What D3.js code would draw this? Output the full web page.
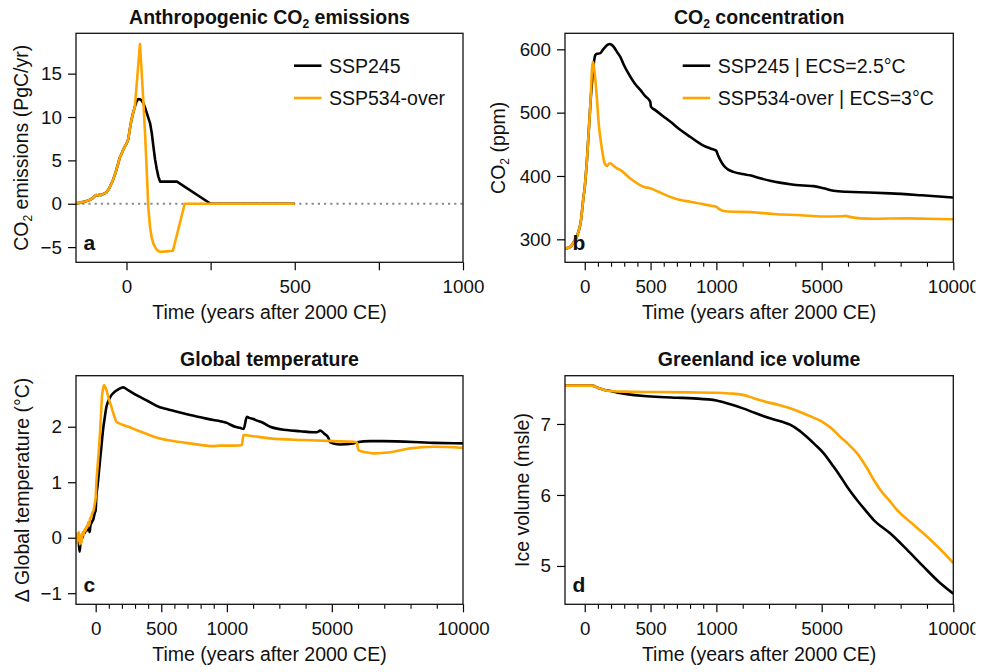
<!DOCTYPE html>
<html><head><meta charset="utf-8">
<script src="https://cdn.jsdelivr.net/npm/d3@7"></script>
<style>body{margin:0;background:#fff}</style>
</head><body>
<script>
// ---------------- DATA ----------------
// Panel a: anthropogenic CO2 emissions (PgC/yr)
const emisHistTime = [-150,-140,-130,-120,-110,-100,-95,-90,-85,-80,-75,-70,-65,-60,-55,-50,-45,-40,-35,-30,-25,-20,-15,-10,-5,0,5,10,15,20,25];
const emisHist     = [0.05,0.1,0.2,0.3,0.42,0.65,0.85,1.0,0.95,1.05,1.0,1.1,1.2,1.3,1.55,1.9,2.3,2.75,3.3,3.9,4.6,5.3,5.7,6.2,6.6,6.9,7.4,8.6,9.7,10.5,11.2];
const emisTimeSSP245 = [30,35,40,45,50,55,60,65,70,75,80,85,90,95,100,150,250,500];
const emisSSP245     = [11.8,12.08,12.05,11.9,11.6,11.1,10.5,9.9,9.3,8.2,6.6,5.1,4.0,3.1,2.55,2.55,0,0];
const emisTimeSSP534 = [30,35,40,45,50,55,60,65,70,75,80,85,90,95,100,138,173,500];
const emisSSP534     = [13.6,16.0,18.4,15.3,11.9,8.3,4.0,-0.5,-2.7,-3.9,-4.6,-5.0,-5.3,-5.45,-5.55,-5.42,0,0];

// Panel b: CO2 concentration (ppm)
const co2HistTime = [-150,-120,-100,-83,-60,-45,-30,-20,-10,0,5,15,23,33,43];
const co2Hist     = [285.5,287,290,296,304,314,328,346,366,382,394,420,446,480,514];
const co2TimeSSP245 = [56,68,81,95,119,140,157,175,190,205,220,245,270,300,346,380,422,460,498,503,536,598,649,725,800,902,960,998,1050,1150,1270,1450,1650,2000,2280,2700,3040,3400,3800,4300,4690,5070,5450,5950,6800,7600,8800,10000];
const co2SSP245     = [550,577,591,593,594,600,604,607.5,608.5,607,604,596,588,574,557,546,536,526,517,509.5,504,494,486,473,462,448,443,440,434,425,417,410,406.5,403,401,396,392.5,389.5,387,385,384,380.5,376.8,375,374,372.6,369.5,366];
const co2TimeSSP534 = [50,56,63,70,81,95,106,120,132,145,157,170,182,195,220,245,270,346,447,498,560,649,725,801,900,960,998,1100,1270,1650,2300,3170,4200,5070,5800,5900,6100,6470,7000,8240,9000,10000];
const co2SSP534     = [545,572,580,572,551,515,483,458,441,425,417.5,416,419,420,416,412,409.5,396,383,380.5,375,367,362,359.4,355.5,353,351.5,348,344.7,343.5,343,340,338,336,336.5,337,335,333,332.5,333,332.5,331.6];

// Panel c: global temperature anomaly (°C)
const tempTimeSSP245 = [-150,-140,-135,-128,-122,-115,-109,-100,-92,-84,-75,-68,-59,-52,-46,-40,-33,-25,-18,-8,0,5,15,31,45,56,70,82,100,120,145,171,209,247,311,400,490,541,620,719,800,898,949,1000,1126,1316,1500,1640,1762,1850,2013,2100,2333,2650,3285,3793,4298,4428,4555,4700,4872,4933,5062,5314,5824,5950,6457,6967,8870,10000];
const tempSSP245     = [0.02,-0.05,0.05,-0.1,-0.25,-0.05,0.05,0.0,0.1,0.08,0.15,0.12,0.2,0.15,0.1,0.22,0.26,0.3,0.33,0.44,0.5,0.74,0.95,1.34,1.68,1.94,2.18,2.36,2.48,2.57,2.63,2.67,2.71,2.66,2.57,2.46,2.35,2.32,2.27,2.21,2.17,2.12,2.10,2.07,2.04,2.0,1.98,1.96,2.18,2.16,2.14,2.12,2.08,2.0,1.94,1.92,1.90,1.90,1.93,1.88,1.80,1.72,1.70,1.68,1.70,1.72,1.74,1.74,1.71,1.70];
const tempTimeSSP534 = [-150,-146,-142,-137,-133,-128,-122,-116,-109,-100,-92,-84,-78,-71,-64,-57,-50,-42,-33,-25,-15,-8,0,5,15,31,40,48,56,64,72,82,100,120,140,158,180,209,260,311,400,490,600,719,898,949,1000,1300,1571,1632,2000,2650,3920,5070,5824,5950,6014,6300,6585,7000,7347,7982,8870,10000];
const tempSSP534     = [0.05,-0.1,0.08,-0.05,0.0,0.1,-0.12,0.05,-0.1,0.1,0.05,0.15,0.12,0.2,0.18,0.28,0.22,0.35,0.38,0.45,0.5,0.6,0.72,0.98,1.3,1.82,2.2,2.54,2.68,2.75,2.72,2.66,2.5,2.36,2.2,2.09,2.06,2.03,1.99,1.94,1.86,1.79,1.74,1.70,1.65,1.66,1.66,1.66,1.67,1.85,1.83,1.79,1.76,1.74,1.73,1.72,1.58,1.54,1.52,1.53,1.55,1.61,1.64,1.62];

// Panel d: Greenland ice volume (m sle)
const iceTimeSSP245 = [-150,0,56,100,150,195,250,321,450,573,700,826,1000,1500,2010,2500,3040,3500,3800,4100,4430,4750,5070,5450,5750,5960,6340,6650,6970,7600,8240,8870,9500,10000];
const iceSSP245     = [7.54,7.54,7.54,7.51,7.48,7.465,7.44,7.42,7.395,7.38,7.37,7.36,7.33,7.28,7.22,7.15,7.08,7.03,6.99,6.92,6.82,6.71,6.59,6.40,6.24,6.12,5.93,5.79,5.65,5.46,5.23,4.99,4.76,4.61];
const iceTimeSSP534 = [-150,0,56,100,150,195,300,548,800,1000,1500,2010,2450,2900,3350,3800,4430,5070,5400,5700,6000,6340,6720,7000,7230,7550,7860,8490,9130,9600,10000];
const iceSSP534     = [7.54,7.54,7.54,7.51,7.48,7.465,7.455,7.45,7.445,7.44,7.43,7.41,7.36,7.31,7.27,7.22,7.13,7.02,6.93,6.82,6.72,6.59,6.38,6.2,6.07,5.93,5.79,5.58,5.37,5.2,5.04];

// Ticks
const xTicksLinear  = [0,250,500,750,1000];
const xLabelsLinear = [0,500,1000];
const xTicksMajor   = [0,500,1000,5000,10000];
const xTicksMinor   = [100,200,300,400,600,700,800,900,2000,3000,4000,6000,7000,8000,9000];
const yTicksA = [-5,0,5,10,15];
const yTicksB = [300,400,500,600];
const yTicksC = [-1,0,1,2];
const yTicksD = [5,6,7];
const legendA = ["SSP245","SSP534-over"];
const legendB = ["SSP245 | ECS=2.5°C","SSP534-over | ECS=3°C"];

// ---------------- DRAW ----------------
const FONT = '"Liberation Sans", Arial, Helvetica, sans-serif';
const BLACK = "#000000", ORANGE = "#FFA500";
const TICKFS = 18.8, LABFS = 19.5, TITFS = 19.5;

const svg = d3.select("body").append("svg")
  .attr("width", 986).attr("height", 672)
  .style("font-family", FONT);
const defs = svg.append("defs");
defs.append("clipPath").attr("id","figclip").append("rect")
  .attr("x",0).attr("y",0).attr("width",975.5).attr("height",672);
const root = svg.append("g").attr("clip-path","url(#figclip)");

const zip = (t, v) => t.map((d,i) => [d, v[i]]);

function rich(sel, parts, fs){
  // parts: array of [text, isSub]
  let prevSub = false;
  parts.forEach(([txt, sub]) => {
    const ts = sel.append("tspan").text(txt);
    if (sub) { ts.attr("font-size", fs*0.62).attr("dy", fs*0.2); prevSub = true; }
    else if (prevSub) { ts.attr("dy", -fs*0.2); prevSub = false; }
  });
}

const PA = {l:76,  r:463,   t:33.3,  b:262.3};
const PB = {l:565, r:953.3, t:33.3,  b:262.3};
const PC = {l:76,  r:463,   t:375.7, b:604.3};
const PD = {l:565, r:953.3, t:375.7, b:604.3};

function brokenX(P){
  // linear until 1000, then compressed 5x until 10000
  const units = 1150 + 9000/5;
  const xm = P.l + (P.r - P.l) * 1150 / units;
  return d3.scaleLinear().domain([-150,1000,10000]).range([P.l, xm, P.r]);
}

let clipId = 0;
function panel(P, x, yDomain, yTicks, opts){
  const g = root.append("g");
  const y = d3.scaleLinear().domain(yDomain).range([P.b, P.t]);
  const cid = "pc" + (clipId++);
  defs.append("clipPath").attr("id", cid).append("rect")
    .attr("x", P.l).attr("y", P.t).attr("width", P.r-P.l).attr("height", P.b-P.t);

  // x axis major + minor
  const xa = g.append("g").attr("transform", `translate(0,${P.b})`)
    .call(d3.axisBottom(x).tickValues(opts.xMajor).tickSize(8).tickPadding(9)
      .tickFormat(d => opts.xLabels.includes(d) ? d3.format("d")(d) : ""));
  xa.select(".domain").remove();
  xa.attr("font-family", FONT).attr("font-size", TICKFS);
  xa.selectAll("line").attr("stroke-width", 1.2);
  xa.selectAll("text").attr("fill", "#111");
  if (opts.xMinor) {
    const xm = g.append("g").attr("transform", `translate(0,${P.b})`)
      .call(d3.axisBottom(x).tickValues(opts.xMinor).tickSize(4.5).tickFormat(""));
    xm.select(".domain").remove();
    xm.selectAll("line").attr("stroke-width", 1.1);
  }
  // y axis
  const ya = g.append("g").attr("transform", `translate(${P.l},0)`)
    .call(d3.axisLeft(y).tickValues(yTicks).tickSize(8).tickPadding(6).tickFormat(d3.format("d")));
  ya.select(".domain").remove();
  ya.attr("font-family", FONT).attr("font-size", TICKFS);
  ya.selectAll("line").attr("stroke-width", 1.2);
  ya.selectAll("text").attr("fill", "#111");

  const plot = g.append("g").attr("clip-path", `url(#${cid})`);
  if (opts.zeroLine) {
    plot.append("line").attr("x1", P.l).attr("x2", P.r)
      .attr("y1", y(0)).attr("y2", y(0))
      .attr("stroke", "#8a8a8a").attr("stroke-width", 2.2)
      .attr("stroke-dasharray", "2.2,4");
  }
  const line = d3.line().x(d => x(d[0])).y(d => y(d[1])).curve(opts.curve || d3.curveLinear);
  opts.series.forEach(s => {
    plot.append("path").datum(s.data).attr("d", line)
      .attr("fill", "none").attr("stroke", s.color).attr("stroke-width", 2.6)
      .attr("stroke-linejoin", "round").attr("stroke-linecap", "butt");
  });

  // frame
  g.append("rect").attr("x", P.l).attr("y", P.t).attr("width", P.r-P.l).attr("height", P.b-P.t)
    .attr("fill", "none").attr("stroke", "#111").attr("stroke-width", 1.3);

  // panel letter
  g.append("text").attr("x", P.l + 7.5).attr("y", P.b - 12.5)
    .attr("font-size", 21).attr("font-weight", "bold").attr("fill", "#111").text(opts.letter);

  // title
  const cx = (P.l + P.r) / 2;
  const tt = g.append("text").attr("x", cx).attr("y", P.t - 9.5).attr("text-anchor", "middle")
    .attr("font-size", TITFS).attr("font-weight", "bold").attr("fill", "#111");
  rich(tt, opts.title, TITFS);

  // x label
  g.append("text").attr("x", cx).attr("y", P.b + 56.5).attr("text-anchor", "middle")
    .attr("font-size", LABFS).attr("fill", "#111").text("Time (years after 2000 CE)");

  // y label
  const yl = g.append("text").attr("transform", `translate(${opts.ylabX},${(P.t+P.b)/2}) rotate(-90)`)
    .attr("text-anchor", "middle").attr("font-size", LABFS).attr("fill", "#111");
  rich(yl, opts.ylabel, LABFS);

  // legend
  if (opts.legend) {
    const L = opts.legend;
    L.items.forEach((it, i) => {
      const ly = L.y0 + i * 32.3;
      g.append("line").attr("x1", L.x0).attr("x2", L.x0 + 27.5).attr("y1", ly).attr("y2", ly)
        .attr("stroke", it.color).attr("stroke-width", 2.6);
      g.append("text").attr("x", L.x0 + 35).attr("y", ly + 7)
        .attr("font-size", LABFS).attr("fill", "#111").text(it.label);
    });
  }
}

// Panel a
panel(PA, d3.scaleLinear().domain([-150,1000]).range([PA.l, PA.r]), [-6.75, 19.65], yTicksA, {
  xMajor: xTicksLinear, xLabels: xLabelsLinear, xMinor: null, zeroLine: true, letter: "a",
  title: [["Anthropogenic CO", false], ["2", true], [" emissions", false]],
  ylabel: [["CO", false], ["2", true], [" emissions (PgC/yr)", false]], ylabX: 28.3,
  series: [
    {color: BLACK,  data: zip(emisHistTime.concat(emisTimeSSP245), emisHist.concat(emisSSP245))},
    {color: ORANGE, data: zip(emisHistTime.concat(emisTimeSSP534), emisHist.concat(emisSSP534))}
  ],
  legend: {x0: 294, y0: 65.7, items: [{color: BLACK, label: legendA[0]}, {color: ORANGE, label: legendA[1]}]}
});

// Panel b
panel(PB, brokenX(PB), [263.7, 625.3], yTicksB, {
  xMajor: xTicksMajor, xLabels: xTicksMajor, xMinor: xTicksMinor, letter: "b", curve: d3.curveMonotoneX,
  title: [["CO", false], ["2", true], [" concentration", false]],
  ylabel: [["CO", false], ["2", true], [" (ppm)", false]], ylabX: 505,
  series: [
    {color: BLACK,  data: zip(co2HistTime.concat(co2TimeSSP245), co2Hist.concat(co2SSP245))},
    {color: ORANGE, data: zip(co2HistTime.concat(co2TimeSSP534), co2Hist.concat(co2SSP534))}
  ],
  legend: {x0: 682.7, y0: 65.7, items: [{color: BLACK, label: legendB[0]}, {color: ORANGE, label: legendB[1]}]}
});

// Panel c
panel(PC, brokenX(PC), [-1.2, 2.92], yTicksC, {
  xMajor: xTicksMajor, xLabels: xTicksMajor, xMinor: xTicksMinor, letter: "c", curve: d3.curveMonotoneX,
  title: [["Global temperature", false]],
  ylabel: [["Δ Global temperature (°C)", false]], ylabX: 28.5,
  series: [
    {color: BLACK,  data: zip(tempTimeSSP245, tempSSP245)},
    {color: ORANGE, data: zip(tempTimeSSP534, tempSSP534)}
  ]
});

// Panel d
panel(PD, brokenX(PD), [4.46, 7.68], yTicksD, {
  xMajor: xTicksMajor, xLabels: xTicksMajor, xMinor: xTicksMinor, letter: "d", curve: d3.curveMonotoneX,
  title: [["Greenland ice volume", false]],
  ylabel: [["Ice volume (msle)", false]], ylabX: 529.3,
  series: [
    {color: BLACK,  data: zip(iceTimeSSP245, iceSSP245)},
    {color: ORANGE, data: zip(iceTimeSSP534, iceSSP534)}
  ]
});
</script>
</body></html>
